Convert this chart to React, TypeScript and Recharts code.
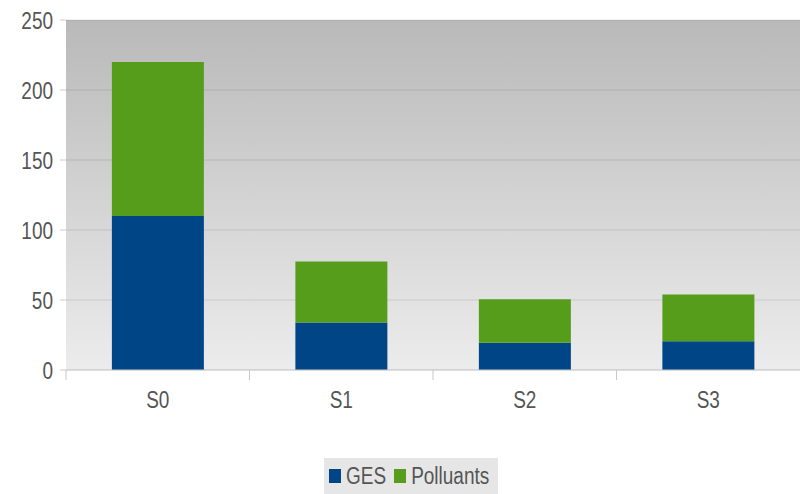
import { Bar, BarChart, CartesianGrid, Legend, XAxis, YAxis } from 'recharts';

const scenarios = ['S0', 'S1', 'S2', 'S3'];
const gesValues = [110, 34, 19.5, 20.5];
const polluantsValues = [110, 43.5, 31, 33.5];
const yTicks = [0, 50, 100, 150, 200, 250];

const BLUE = '#004586';
const GREEN = '#579d1c';
const TEXT = '#555555';
const FONT = '"Liberation Sans", Arial, sans-serif';

const data = scenarios.map((name, i) => ({
  name,
  ges: gesValues[i],
  polluants: polluantsValues[i],
}));

function XTick(props: any) {
  const { x, y, payload } = props;
  const half = payload.offset ?? 0;
  return (
    <g>
      <line x1={x - half} x2={x - half} y1={370} y2={380} stroke="#c8c8c8" />
      <text
        transform={`translate(${x},${y + 30}) scale(1,1.3)`}
        textAnchor="middle"
        fill={TEXT}
        fontFamily={FONT}
        fontSize={19}
      >
        {payload.value}
      </text>
    </g>
  );
}

function YTick(props: any) {
  const { y, payload } = props;
  return (
    <text
      transform={`translate(53,${y + 9}) scale(1,1.3)`}
      textAnchor="end"
      fill={TEXT}
      fontFamily={FONT}
      fontSize={19}
    >
      {payload.value}
    </text>
  );
}

function LegendBox() {
  const item = (color: string, label: string) => (
    <div style={{ display: 'flex', alignItems: 'center', marginRight: 8 }}>
      <div style={{ width: 12, height: 14, background: color, marginRight: 5 }} />
      <span
        style={{
          fontFamily: FONT,
          fontSize: 19,
          color: TEXT,
          display: 'inline-block',
          transform: 'scaleY(1.3)',
        }}
      >
        {label}
      </span>
    </div>
  );
  return (
    <div
      style={{
        height: 36,
        width: 174,
        background: '#e6e6e6',
        display: 'flex',
        alignItems: 'center',
        paddingLeft: 5,
        boxSizing: 'border-box',
      }}
    >
      {item(BLUE, 'GES')}
      {item(GREEN, 'Polluants')}
    </div>
  );
}

export default function App() {
  return (
    <div style={{ position: 'absolute', left: 0, top: 0, width: 800, height: 494, background: '#fff' }}>
      <BarChart
        width={800}
        height={494}
        data={data}
        margin={{ top: 20, right: 0, bottom: 0, left: 0 }}
        barCategoryGap="25%"
      >
        <defs>
          <linearGradient id="bgGrad" x1="0" y1="0" x2="0" y2="1">
            <stop offset="0%" stopColor="#b9b9b9" />
            <stop offset="100%" stopColor="#ececec" />
          </linearGradient>
        </defs>
        <CartesianGrid vertical={false} fill="url(#bgGrad)" stroke="rgba(0,0,0,0.1)" />
        <XAxis
          dataKey="name"
          height={88}
          axisLine={{ stroke: '#c8c8c8' }}
          tickLine={false}
          tick={<XTick />}
          interval={0}
        />
        <YAxis
          width={66}
          domain={[0, 250]}
          ticks={yTicks}
          axisLine={false}
          tickLine={{ stroke: '#cccccc' }}
          tickSize={6}
          tick={<YTick />}
        />
        <Legend
          verticalAlign="bottom"
          content={<LegendBox />}
          wrapperStyle={{ left: 324, width: 174, height: 36, bottom: 0 }}
        />
        <Bar dataKey="ges" name="GES" stackId="a" fill={BLUE} isAnimationActive={false} />
        <Bar dataKey="polluants" name="Polluants" stackId="a" fill={GREEN} isAnimationActive={false} />
      </BarChart>
    </div>
  );
}
